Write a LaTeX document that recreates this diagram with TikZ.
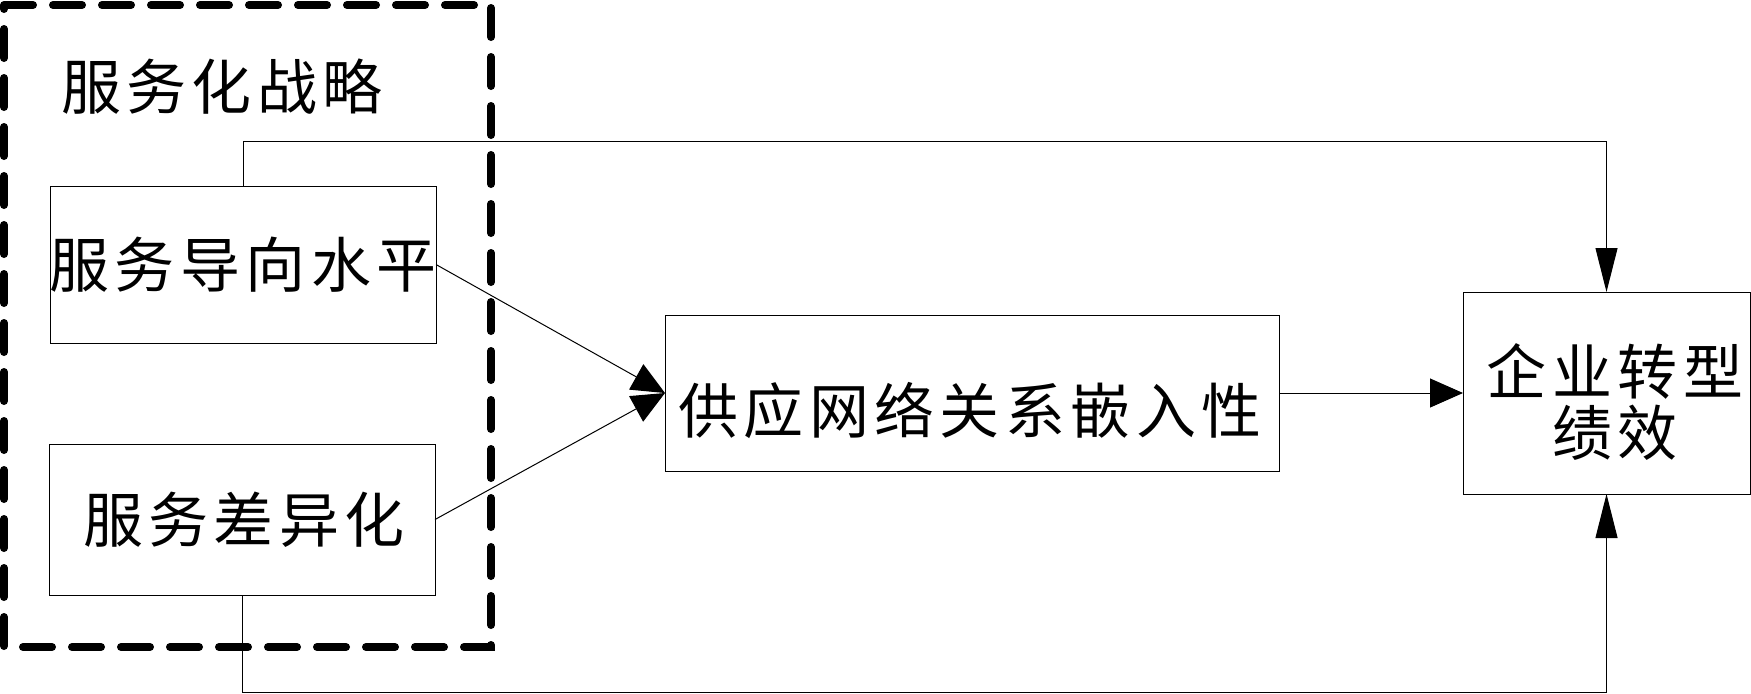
\documentclass[tikz,border=0pt]{standalone}
\usepackage{fontspec}
\newfontfamily\cjk[LetterSpace=9]{Noto Sans CJK SC}
\usetikzlibrary{arrows.meta}
\begin{document}
\begin{tikzpicture}[x=0.5pt,y=-0.5pt,
  box/.style={draw=black,line width=0.5pt,inner sep=0pt,outer sep=0pt,rectangle},
  txt/.style={inner sep=0pt,font=\cjk\fontsize{30pt}{30.5pt}\selectfont,align=center},
  conn/.style={draw=black,line width=0.5pt},
  harrow/.style={conn,-{Triangle[length=16.5pt,width=14.5pt]}},
  varrow/.style={conn,-{Triangle[length=22pt,width=11pt]}},
  dashbox/.style={draw=black,line width=4pt,line cap=round,dash pattern=on 14.5pt off 10pt}
]
\useasboundingbox (0,0) rectangle (1751,693);
% boxes
\node[box,minimum width=193pt,minimum height=78.5pt] (b1) at (243,264.5) {};
\node[box,minimum width=193pt,minimum height=75.5pt] (b2) at (242,519.5) {};
\node[box,minimum width=307pt,minimum height=78pt] (mid) at (972,393) {};
\node[box,minimum width=143.5pt,minimum height=101pt] (r) at (1606.5,393) {};
% texts
\node[txt] (t0) at (222,87) {服务化战略};
\node[txt] (t1) at (243,265) {服务导向水平};
\node[txt] (t2) at (244,520) {服务差异化};
\node[txt] (t3) at (970,411) {供应网络关系嵌入性};
\node[txt] (t4) at (1615,402) {企业转型\\绩效};
% connectors
\coordinate (topy) at (900,141);
\coordinate (boty) at (900,692);
\draw[varrow] (b1.north) |- (topy) -| (r.north);
\draw[varrow] (b2.south) |- (boty) -| (r.south);
\draw[harrow] (b1.east) -- (mid.west);
\draw[harrow] (b2.east) -- (mid.west);
\draw[harrow] (mid.east) -- (r.west);
% dashed group frame
\draw[dashbox] (4,5) -- (491,5) -- (491,647) -- (4,647) -- cycle;
\end{tikzpicture}
\end{document}
